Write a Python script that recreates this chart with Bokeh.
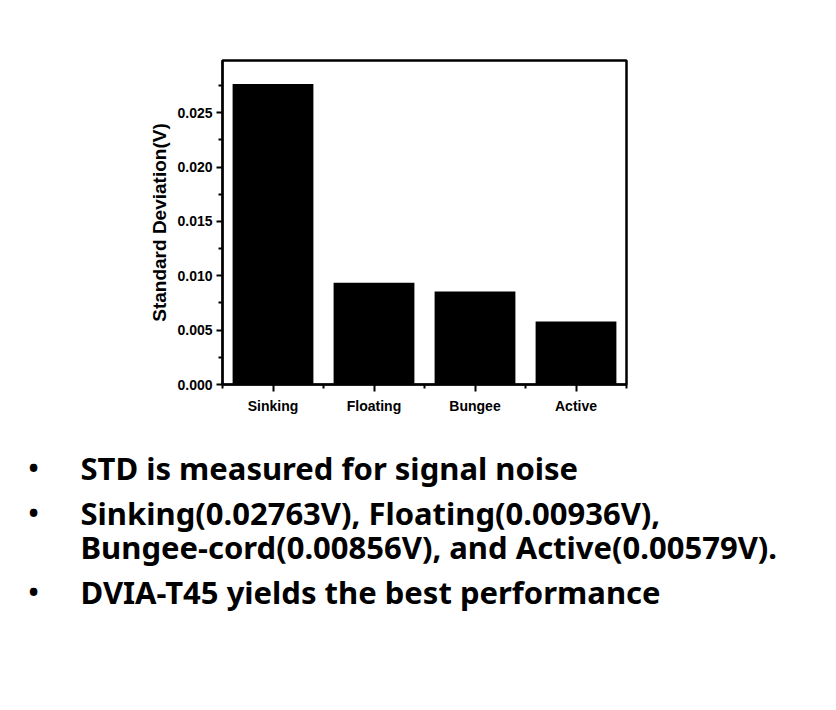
from bokeh.plotting import figure
from bokeh.models import Range1d, FixedTicker, PrintfTickFormatter, ColumnDataSource
from bokeh.core.properties import value
from bokeh.embed import file_html
from bokeh.resources import INLINE

categories = ["Sinking", "Floating", "Bungee", "Active"]
std_values = [0.02763, 0.00936, 0.00856, 0.00579]
y_major_ticks = [0.000, 0.005, 0.010, 0.015, 0.020, 0.025]
y_minor_ticks = [0.0025, 0.0075, 0.0125, 0.0175, 0.0225, 0.0275]
y_label = "Standard Deviation(V)"
bullet_lines = [
    ("•", "STD is measured for signal noise"),
    ("•", "Sinking(0.02763V), Floating(0.00936V),"),
    ("", "Bungee-cord(0.00856V), and Active(0.00579V)."),
    ("•", "DVIA-T45 yields the best performance"),
]

xs = [i + 1 for i in range(len(categories))]

FL, FT, FW, FH = 222, 60, 404, 324   # frame left/top/width/height on canvas
W, H1 = 820, 430

p = figure(width=W, height=H1, output_backend="svg", toolbar_location=None,
           x_range=Range1d(0.5, len(categories) + 0.5), y_range=Range1d(0, 0.0298),
           min_border_left=FL, min_border_top=FT,
           min_border_right=W - FL - FW, min_border_bottom=H1 - FT - FH)
p.vbar(x=xs, top=std_values, width=0.8, fill_color="black", line_color=None)
p.grid.visible = False
p.outline_line_color = "black"
p.outline_line_width = 2.5
p.background_fill_color = "white"
p.border_fill_color = "white"

tick_font = "Liberation Sans"
p.xaxis.ticker = FixedTicker(ticks=xs, minor_ticks=[x + 0.5 for x in [0] + xs])
p.xaxis.major_label_overrides = {x: c for x, c in zip(xs, categories)}
p.yaxis.ticker = FixedTicker(ticks=y_major_ticks, minor_ticks=y_minor_ticks)
p.yaxis.formatter = PrintfTickFormatter(format="%.3f")
p.yaxis.axis_label = y_label

for ax in (p.xaxis[0], p.yaxis[0]):
    ax.axis_line_color = "black"
    ax.axis_line_width = 2
    ax.major_tick_line_width = 2
    ax.minor_tick_line_width = 2
    ax.major_tick_in = 0
    ax.minor_tick_in = 0
    ax.major_label_text_font = tick_font
    ax.major_label_text_font_style = "bold"
    ax.major_label_text_font_size = "14px"
    ax.major_label_text_color = "black"
p.xaxis.major_tick_out = 7
p.xaxis.minor_tick_out = 4
p.xaxis.major_label_standoff = 6
p.yaxis.major_tick_out = 6
p.yaxis.minor_tick_out = 4
p.yaxis.major_label_standoff = 4
p.yaxis.axis_label_text_font = tick_font
p.yaxis.axis_label_text_font_style = "bold"
p.yaxis.axis_label_text_font_size = "19px"
p.yaxis.axis_label_text_color = "black"
p.yaxis.axis_label_standoff = 4

# text panel (separate root so it is not frame-aligned with the chart)
H2 = 260
t = figure(width=W, height=H2, output_backend="svg", toolbar_location=None,
           x_range=Range1d(0, W), y_range=Range1d(H2, 0),
           x_axis_location=None, y_axis_location=None, min_border=0)
t.grid.visible = False
t.outline_line_color = None
TOP2 = H1 + 11   # where the text panel starts on the page
baselines = [y - TOP2 for y in (478, 523, 557, 602)]
src = ColumnDataSource(dict(
    bx=[33] * len(bullet_lines), tx=[80] * len(bullet_lines), y=baselines,
    b=[b for b, _ in bullet_lines], s=[s for _, s in bullet_lines]))
text_font = value("Noto Sans")
t.text(x="bx", y="y", text="b", source=src, text_font=text_font, text_font_size="27px",
       text_font_style="bold", text_align="center", text_baseline="alphabetic", text_color="black")
t.text(x="tx", y="y", text="s", source=src, text_font=text_font, text_font_size="31px",
       text_font_style="bold", text_align="left", text_baseline="alphabetic", text_color="black")

open("out.html", "w").write(file_html([p, t], INLINE))
